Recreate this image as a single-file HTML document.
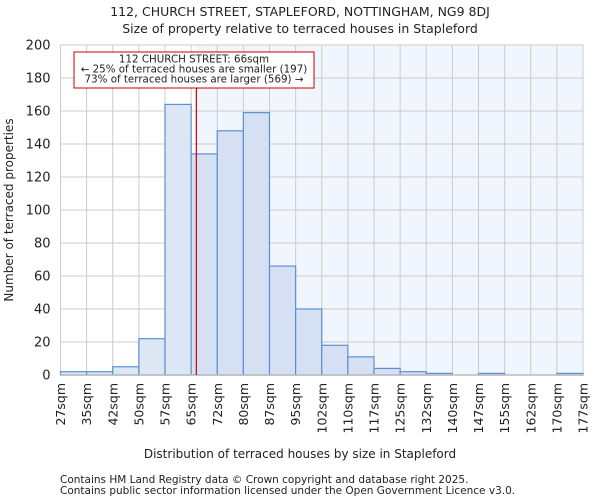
<!DOCTYPE html>
<html><head><meta charset="utf-8"><style>
body{margin:0;background:#fff;font-family:"DejaVu Sans","Liberation Sans",sans-serif;}
svg text{font-family:"DejaVu Sans","Liberation Sans",sans-serif;fill:#222;}
</style></head><body>
<svg id="c" width="600" height="500" xmlns="http://www.w3.org/2000/svg">
<text x="300" y="16" text-anchor="middle" font-size="12.5">112, CHURCH STREET, STAPLEFORD, NOTTINGHAM, NG9 8DJ</text>
<text x="300" y="33" text-anchor="middle" font-size="12.5">Size of property relative to terraced houses in Stapleford</text>
<g id="plot"></g>
<text x="300" y="458" text-anchor="middle" font-size="12">Distribution of terraced houses by size in Stapleford</text>
<text transform="translate(13,210) rotate(-90)" text-anchor="middle" font-size="12">Number of terraced properties</text>
<text x="60" y="483" font-size="10.5">Contains HM Land Registry data © Crown copyright and database right 2025.</text>
<text x="60" y="494" font-size="10.5">Contains public sector information licensed under the Open Government Licence v3.0.</text>
</svg>
<script>
const binEdges=[27,35,42,50,57,65,72,80,87,95,102,110,117,125,132,140,147,155,162,170,177];
const counts=[2,2,5,22,164,134,148,159,66,40,18,11,4,2,1,0,1,0,0,1];
const yTicks=[0,20,40,60,80,100,120,140,160,180,200];
const propertySize=66.4;
const L=60.5,R=583,T=45,B=375,yMax=200;
const n=counts.length,bw=(R-L)/n;
const NS="http://www.w3.org/2000/svg";
const g=document.getElementById('plot');
function el(t,a,p){const e=document.createElementNS(NS,t);for(const k in a)e.setAttribute(k,a[k]);(p||g).appendChild(e);return e;}
function yS(v){return B-(v/yMax)*(B-T);}
function xIdx(i){return L+i*bw;}
function xVal(v){for(let i=0;i<binEdges.length-1;i++){if(v<=binEdges[i+1]){return xIdx(i)+(v-binEdges[i])/(binEdges[i+1]-binEdges[i])*bw;}}return R;}
const mx=xVal(propertySize);
let bg=el('rect',{x:mx,y:T,width:R-mx,height:B-T,fill:'#f1f5fd'});


yTicks.forEach(v=>{
 let l=el('line',{x1:L,x2:R,y1:yS(v),y2:yS(v),stroke:'#cccccc','stroke-width':1});
 
 
 let t=el('text',{x:L-10,y:yS(v)+4.5,'text-anchor':'end','font-size':13});
 t.textContent=v;
 
 
});
binEdges.forEach((e,i)=>{
 let l=el('line',{x1:xIdx(i),x2:xIdx(i),y1:T,y2:B,stroke:'#cccccc','stroke-width':1});
 
 
 let x=xIdx(i);
 let t=el('text',{transform:`translate(${x+4.5},${B+8}) rotate(-90)`,'text-anchor':'end','font-size':12.5});
 t.textContent=e+'sqm';
 
 
});
counts.forEach((c,i)=>{
 let r=el('rect',{x:xIdx(i),y:yS(c),width:bw,height:B-yS(c),fill:xIdx(i)+bw/2<mx?'#dce6f4':'#d5e1f3',stroke:'#5b8fd6','stroke-width':1.2});
 
 
});
let ax=el('line',{x1:L,x2:R,y1:B,y2:B,stroke:'#bbbbbb','stroke-width':1.5});


let ml=el('line',{x1:mx,x2:mx,y1:T+43,y2:B,stroke:'#cc0000','stroke-width':1.2});


let box=el('rect',{x:74,y:52,width:240,height:36,fill:'#fff',stroke:'#cc0000','stroke-width':1});


const lines=['112 CHURCH STREET: 66sqm','← 25% of terraced houses are smaller (197)','73% of terraced houses are larger (569) →'];
lines.forEach((s,i)=>{
 let t=el('text',{x:194,y:62.5+i*10,'text-anchor':'middle','font-size':10.3});
 t.textContent=s;
 
 
});
</script>
</body></html>
